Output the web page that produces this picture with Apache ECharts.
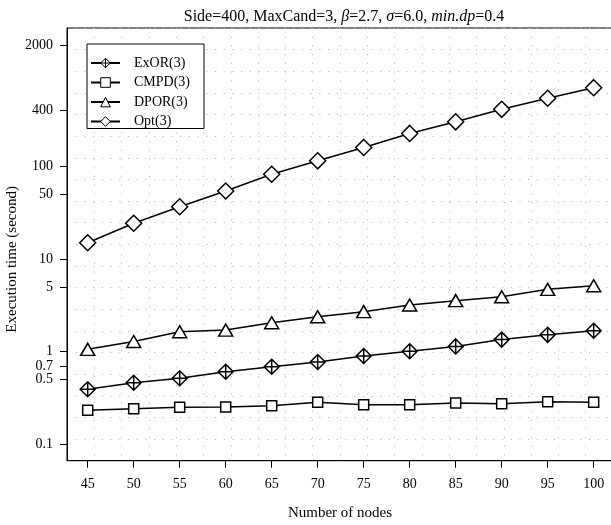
<!DOCTYPE html>
<html><head><meta charset="utf-8">
<script src="https://cdn.jsdelivr.net/npm/echarts@6/dist/echarts.min.js"></script>
<style>html,body{margin:0;padding:0;background:#fff}#c{width:611px;height:525px}</style>
</head><body><div id="c"></div>
<script>
const nodes = [45, 50, 55, 60, 65, 70, 75, 80, 85, 90, 95, 100];
const exor = [0.394, 0.463, 0.517, 0.609, 0.689, 0.774, 0.90, 1.01, 1.14, 1.35, 1.52, 1.68];
const cmpd = [0.234, 0.243, 0.252, 0.254, 0.262, 0.285, 0.268, 0.268, 0.280, 0.275, 0.289, 0.285];
const dpor = [1.06, 1.29, 1.64, 1.71, 2.05, 2.38, 2.70, 3.19, 3.55, 3.91, 4.70, 5.14];
const opt = [14.95, 24.2, 36.5, 53.9, 81.6, 114, 159, 225, 300, 409, 538, 700];
const yTickValues = [0.1, 0.5, 0.7, 1, 5, 10, 50, 100, 400, 2000];
const xTickValues = nodes;

const FONT = 'Liberation Serif';
const chart = echarts.init(document.getElementById('c'), null, {renderer: 'canvas'});

function pts(arr) { return nodes.map((x, i) => [x, arr[i]]); }
function mk(name, arr, symbol, size) {
  return {
    name: name, type: 'line', data: pts(arr), xAxisIndex: 0, yAxisIndex: 0,
    symbol: symbol, symbolSize: size, showAllSymbol: true,
    color: '#000',
    lineStyle: {color: '#000', width: 1.5},
    itemStyle: {color: '#fff', borderColor: '#000', borderWidth: 1.5},
    emphasis: {disabled: true}, animation: false, z: 5
  };
}

const option = {
  animation: false,
  backgroundColor: '#fff',
  textStyle: {fontFamily: FONT, color: '#000'},
  title: {
    text: 'Side=400, MaxCand=3, {i|β}=2.7, {i|σ}=6.0, {i|min.dp}=0.4',
    left: 339, top: 4, textAlign: 'center',
    textStyle: {fontFamily: FONT, fontSize: 16, fontWeight: 'normal', color: '#000',
      rich: {i: {fontFamily: FONT, fontSize: 16, fontStyle: 'italic', color: '#000'}}}
  },
  legend: {
    orient: 'vertical', left: 87, top: 44,
    padding: [12, 14, 0, 3], itemGap: 5.5, itemWidth: 29, itemHeight: 12,
    backgroundColor: '#fff', borderColor: '#000', borderWidth: 1,
    textStyle: {fontFamily: FONT, fontSize: 14, color: '#000', padding: [0, 0, 0, 9]},
    itemStyle: {borderWidth: 1},
    data: ['ExOR(3)', 'CMPD(3)', 'DPOR(3)', 'Opt(3)'],
    z: 10
  },
  grid: {left: 67, top: 28, width: 546, height: 432.7, outerBoundsMode: 'none', containLabel: false,
    show: true, borderColor: '#000', borderWidth: 1, backgroundColor: 'transparent'},
  xAxis: [{
    type: 'value', min: 42.75, max: 102.1,
    name: 'Number of nodes', nameLocation: 'middle', nameGap: 45,
    nameTextStyle: {fontFamily: FONT, fontSize: 15, color: '#000'},
    axisLine: {lineStyle: {color: '#000', width: 1}},
    axisTick: {show: true, length: 7, lineStyle: {color: '#000'}, customValues: xTickValues},
    axisLabel: {fontFamily: FONT, fontSize: 14, color: '#000', margin: 17, customValues: xTickValues},
    splitLine: {show: false}
  }, {
    type: 'value', min: 0, max: 20, interval: 1, position: 'top', gridIndex: 0,
    axisLine: {show: false}, axisTick: {show: false}, axisLabel: {show: false},
    splitLine: {show: true, lineStyle: {color: '#bdbdbd', width: 1, type: [1.2, 7.5]}}
  }],
  yAxis: [{
    type: 'log', logBase: 10, min: 0.0669, max: 3077,
    name: 'Execution time (second)', nameLocation: 'middle', nameGap: 47, nameRotate: 90,
    nameMoveOverlap: false,
    nameTextStyle: {fontFamily: FONT, fontSize: 15, color: '#000', padding: [0, 30, 0, 0]},
    axisLine: {lineStyle: {color: '#000', width: 1}},
    axisTick: {show: true, length: 7, lineStyle: {color: '#000'}, customValues: yTickValues},
    axisLabel: {fontFamily: FONT, fontSize: 14, color: '#000', margin: 14, customValues: yTickValues,
      formatter: function (v) { return String(v); }},
    minorTick: {show: false},
    splitLine: {show: false}
  }, {
    type: 'value', min: 0, max: 20, interval: 1, position: 'right', gridIndex: 0,
    axisLine: {show: false}, axisTick: {show: false}, axisLabel: {show: false},
    splitLine: {show: true, lineStyle: {color: '#bdbdbd', width: 1, type: [1.2, 7.5]}}
  }],
  series: [
    mk('ExOR(3)', exor, 'path://M0,-10 L10,0 L0,10 L-10,0 Z M0,-10 L0,10 M-10,0 L10,0', 15),
    mk('CMPD(3)', cmpd, 'rect', 10),
    mk('DPOR(3)', dpor, 'triangle', [14, 12]),
    mk('Opt(3)', opt, 'diamond', 16)
  ]
};
chart.setOption(option);
</script>
</body></html>
